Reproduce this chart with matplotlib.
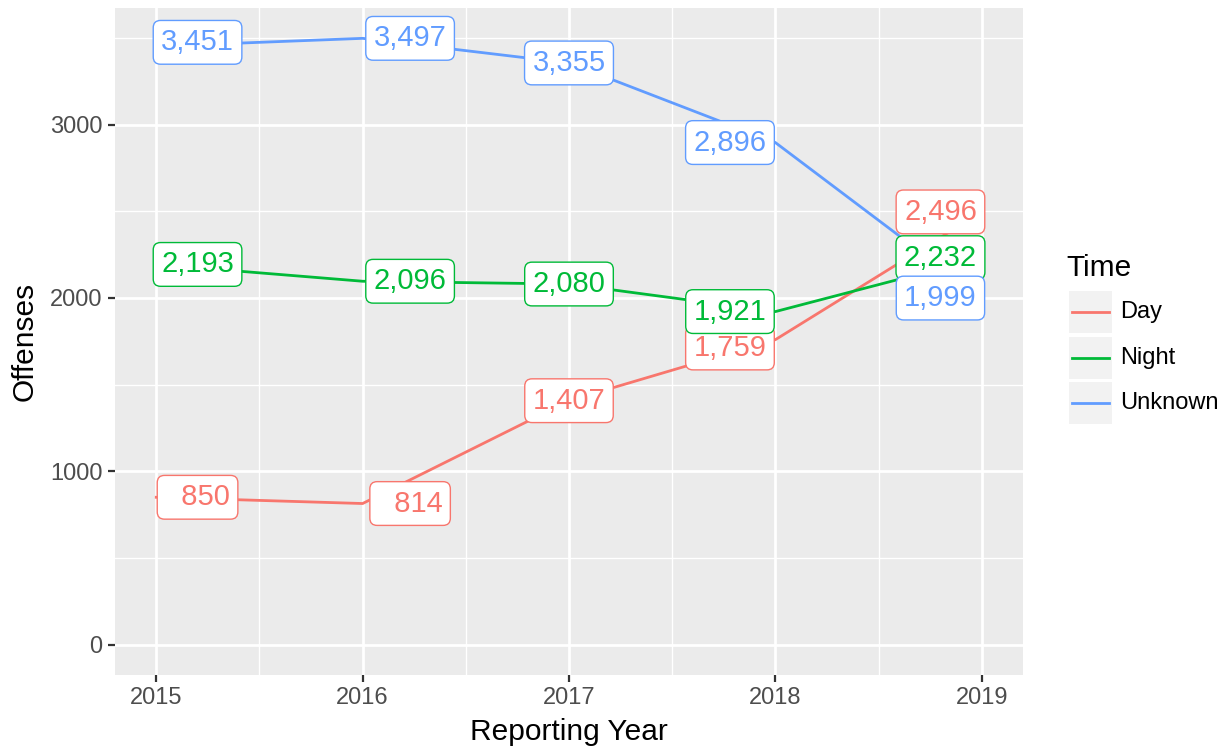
import matplotlib.pyplot as plt
from matplotlib.lines import Line2D
from matplotlib.patches import Rectangle
import numpy as np

plt.rcParams['font.family'] = ['Liberation Sans', 'DejaVu Sans']

years = [2015, 2016, 2017, 2018, 2019]
series = ['Day', 'Night', 'Unknown']
day = [850, 814, 1407, 1759, 2496]
night = [2193, 2096, 2080, 1921, 2232]
unknown = [3451, 3497, 3355, 2896, 1999]
colors = ['#F8766D', '#00BA38', '#619CFF']

# label placement (mimics ggrepel), years units / offense units
lab_dx = [0.2, 0.23, 0.0, -0.22, -0.2]
lab_dy = {('Unknown', 0): 23, ('Day', 3): -48}

W, H = 1227, 748
fig = plt.figure(figsize=(W / 100, H / 100), dpi=100)
ax = fig.add_axes([115 / W, (H - 675) / H, 908 / W, 667 / H])
ax.set_facecolor('#EBEBEB')
for s in ax.spines.values():
    s.set_visible(False)

ax.set_xlim(2014.8, 2019.2)
ax.set_ylim(-175, 3672)
ax.set_xticks(years)
ax.set_yticks([0, 1000, 2000, 3000])
ax.set_xticks(np.arange(2015.5, 2019, 1), minor=True)
ax.set_yticks([500, 1500, 2500, 3500], minor=True)
ax.grid(which='major', color='white', linewidth=2.0)
ax.grid(which='minor', color='white', linewidth=1.0)
ax.set_axisbelow(True)
ax.tick_params(which='major', length=5, width=1.6, color='#333333',
               labelsize=17, labelcolor='#4D4D4D', pad=4)
ax.tick_params(which='minor', length=0)

for name, vals, c in zip(series, [day, night, unknown], colors):
    ax.plot(years, vals, color=c, linewidth=2.0, zorder=2)
    for i, (x, v) in enumerate(zip(years, vals)):
        ax.text(x + lab_dx[i], v + lab_dy.get((name, i), 0),
                f"{v:,}".rjust(5), color=c, fontsize=21,
                ha='center', va='center', zorder=3,
                bbox=dict(boxstyle='round,pad=0.27,rounding_size=0.25',
                          fc='white', ec=c, lw=1.0))

ax.set_xlabel('Reporting Year', fontsize=21.5, labelpad=6)
ax.set_ylabel('Offenses', fontsize=21.5, labelpad=8)

# legend, ggplot-style
fig.text(1066 / W, 1 - 268 / H, 'Time', fontsize=21.5, va='center', ha='left')
for k, (name, c) in enumerate(zip(series, colors)):
    yc = 312 + k * 45.5
    fig.add_artist(Rectangle((1069 / W, 1 - (yc + 21) / H), 43 / W, 42 / H,
                             transform=fig.transFigure, fc='#F2F2F2', ec='none'))
    fig.add_artist(Line2D([1072 / W, 1109 / W], [1 - yc / H, 1 - yc / H],
                          transform=fig.transFigure, color=c, linewidth=2.0))
    fig.text(1120 / W, 1 - yc / H, name, fontsize=17, va='center', ha='left')

fig.savefig('out.png', dpi=100)
